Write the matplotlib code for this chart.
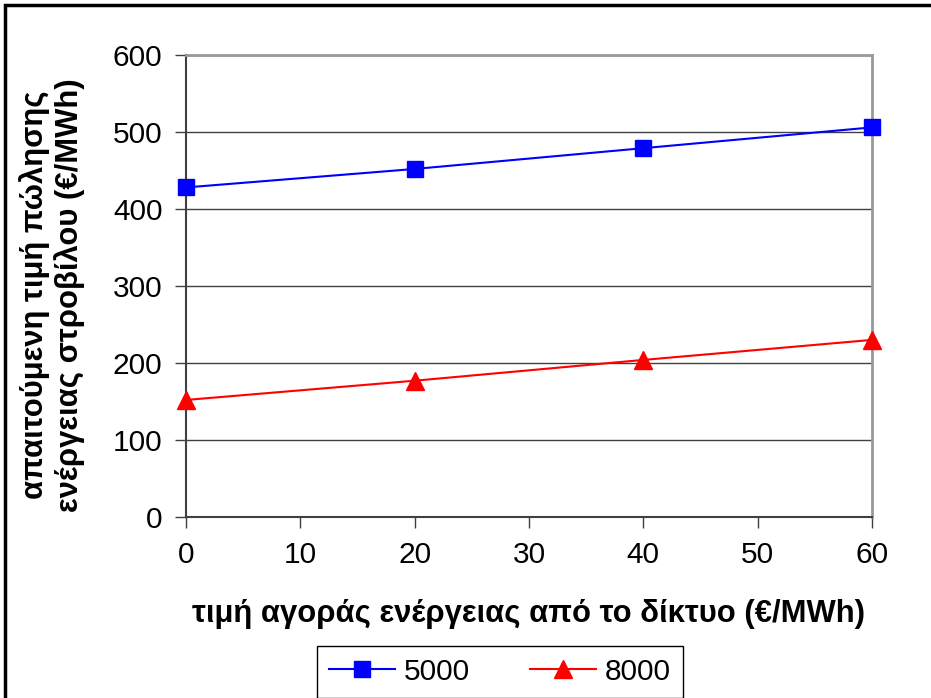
import matplotlib.pyplot as plt
from matplotlib.patches import Rectangle

plt.rcParams['font.family'] = ['Liberation Sans', 'DejaVu Sans']

# grid purchase price (€/MWh)
price = [0, 20, 40, 60]
# required selling price for each case (€/MWh)
series_5000 = [428, 452, 479, 506]
series_8000 = [152, 177, 204, 230]
series_names = ["5000", "8000"]

fig = plt.figure(figsize=(9.31, 6.98), dpi=100)
ax = fig.add_axes([186 / 931, 1 - 517 / 698, (872 - 186) / 931, (517 - 55) / 698])

ax.plot(price, series_5000, color="#0000ff", linewidth=1.5, marker="s",
        markersize=11.5, label=series_names[0], clip_on=False, zorder=5)
ax.plot(price, series_8000, color="#ff0000", linewidth=1.5, marker="^",
        markersize=12.5, label=series_names[1], clip_on=False, zorder=5)

ax.set_xlim(0, 60)
ax.set_ylim(0, 600)
ax.set_xticks(range(0, 61, 10))
ax.set_yticks(range(0, 601, 100))
ax.yaxis.grid(True, color="#404040", linewidth=1)
ax.set_axisbelow(True)

for side in ("left", "bottom"):
    ax.spines[side].set_color("#404040")
    ax.spines[side].set_linewidth(1.5)
for side in ("top", "right"):
    ax.spines[side].set_color("#999999")
    ax.spines[side].set_linewidth(2)

ax.tick_params(axis="both", direction="out", length=8, width=1, color="#404040",
               labelsize=21.5, pad=9)

fig.text(529 / 931, 1 - 614 / 698, "τιμή αγοράς ενέργειας από το δίκτυο (€/MWh)",
         ha="center", va="center", fontsize=22.3, fontweight="bold")
fig.text(52 / 931, 1 - 295 / 698, "απαιτούμενη τιμή πώλησης\nενέργειας στροβίλου (€/MWh)",
         ha="center", va="center", rotation=90, fontsize=22.3, fontweight="bold",
         multialignment="center", linespacing=1.15)

fig.legend(loc="upper center", bbox_to_anchor=(500 / 931, 1 - 646 / 698), ncol=2,
           fontsize=21.5, frameon=True, fancybox=False, edgecolor="black",
           framealpha=1, borderaxespad=0, borderpad=0.4, handlelength=2.2,
           handletextpad=0.3, columnspacing=2.0)

# outer chart frame
fig.patches.append(Rectangle((5 / 931, -0.1), 1.2, 1 - 5 / 698 + 0.1,
                             transform=fig.transFigure, fill=False,
                             edgecolor="black", linewidth=2.5))

fig.savefig("out.png", dpi=100)
